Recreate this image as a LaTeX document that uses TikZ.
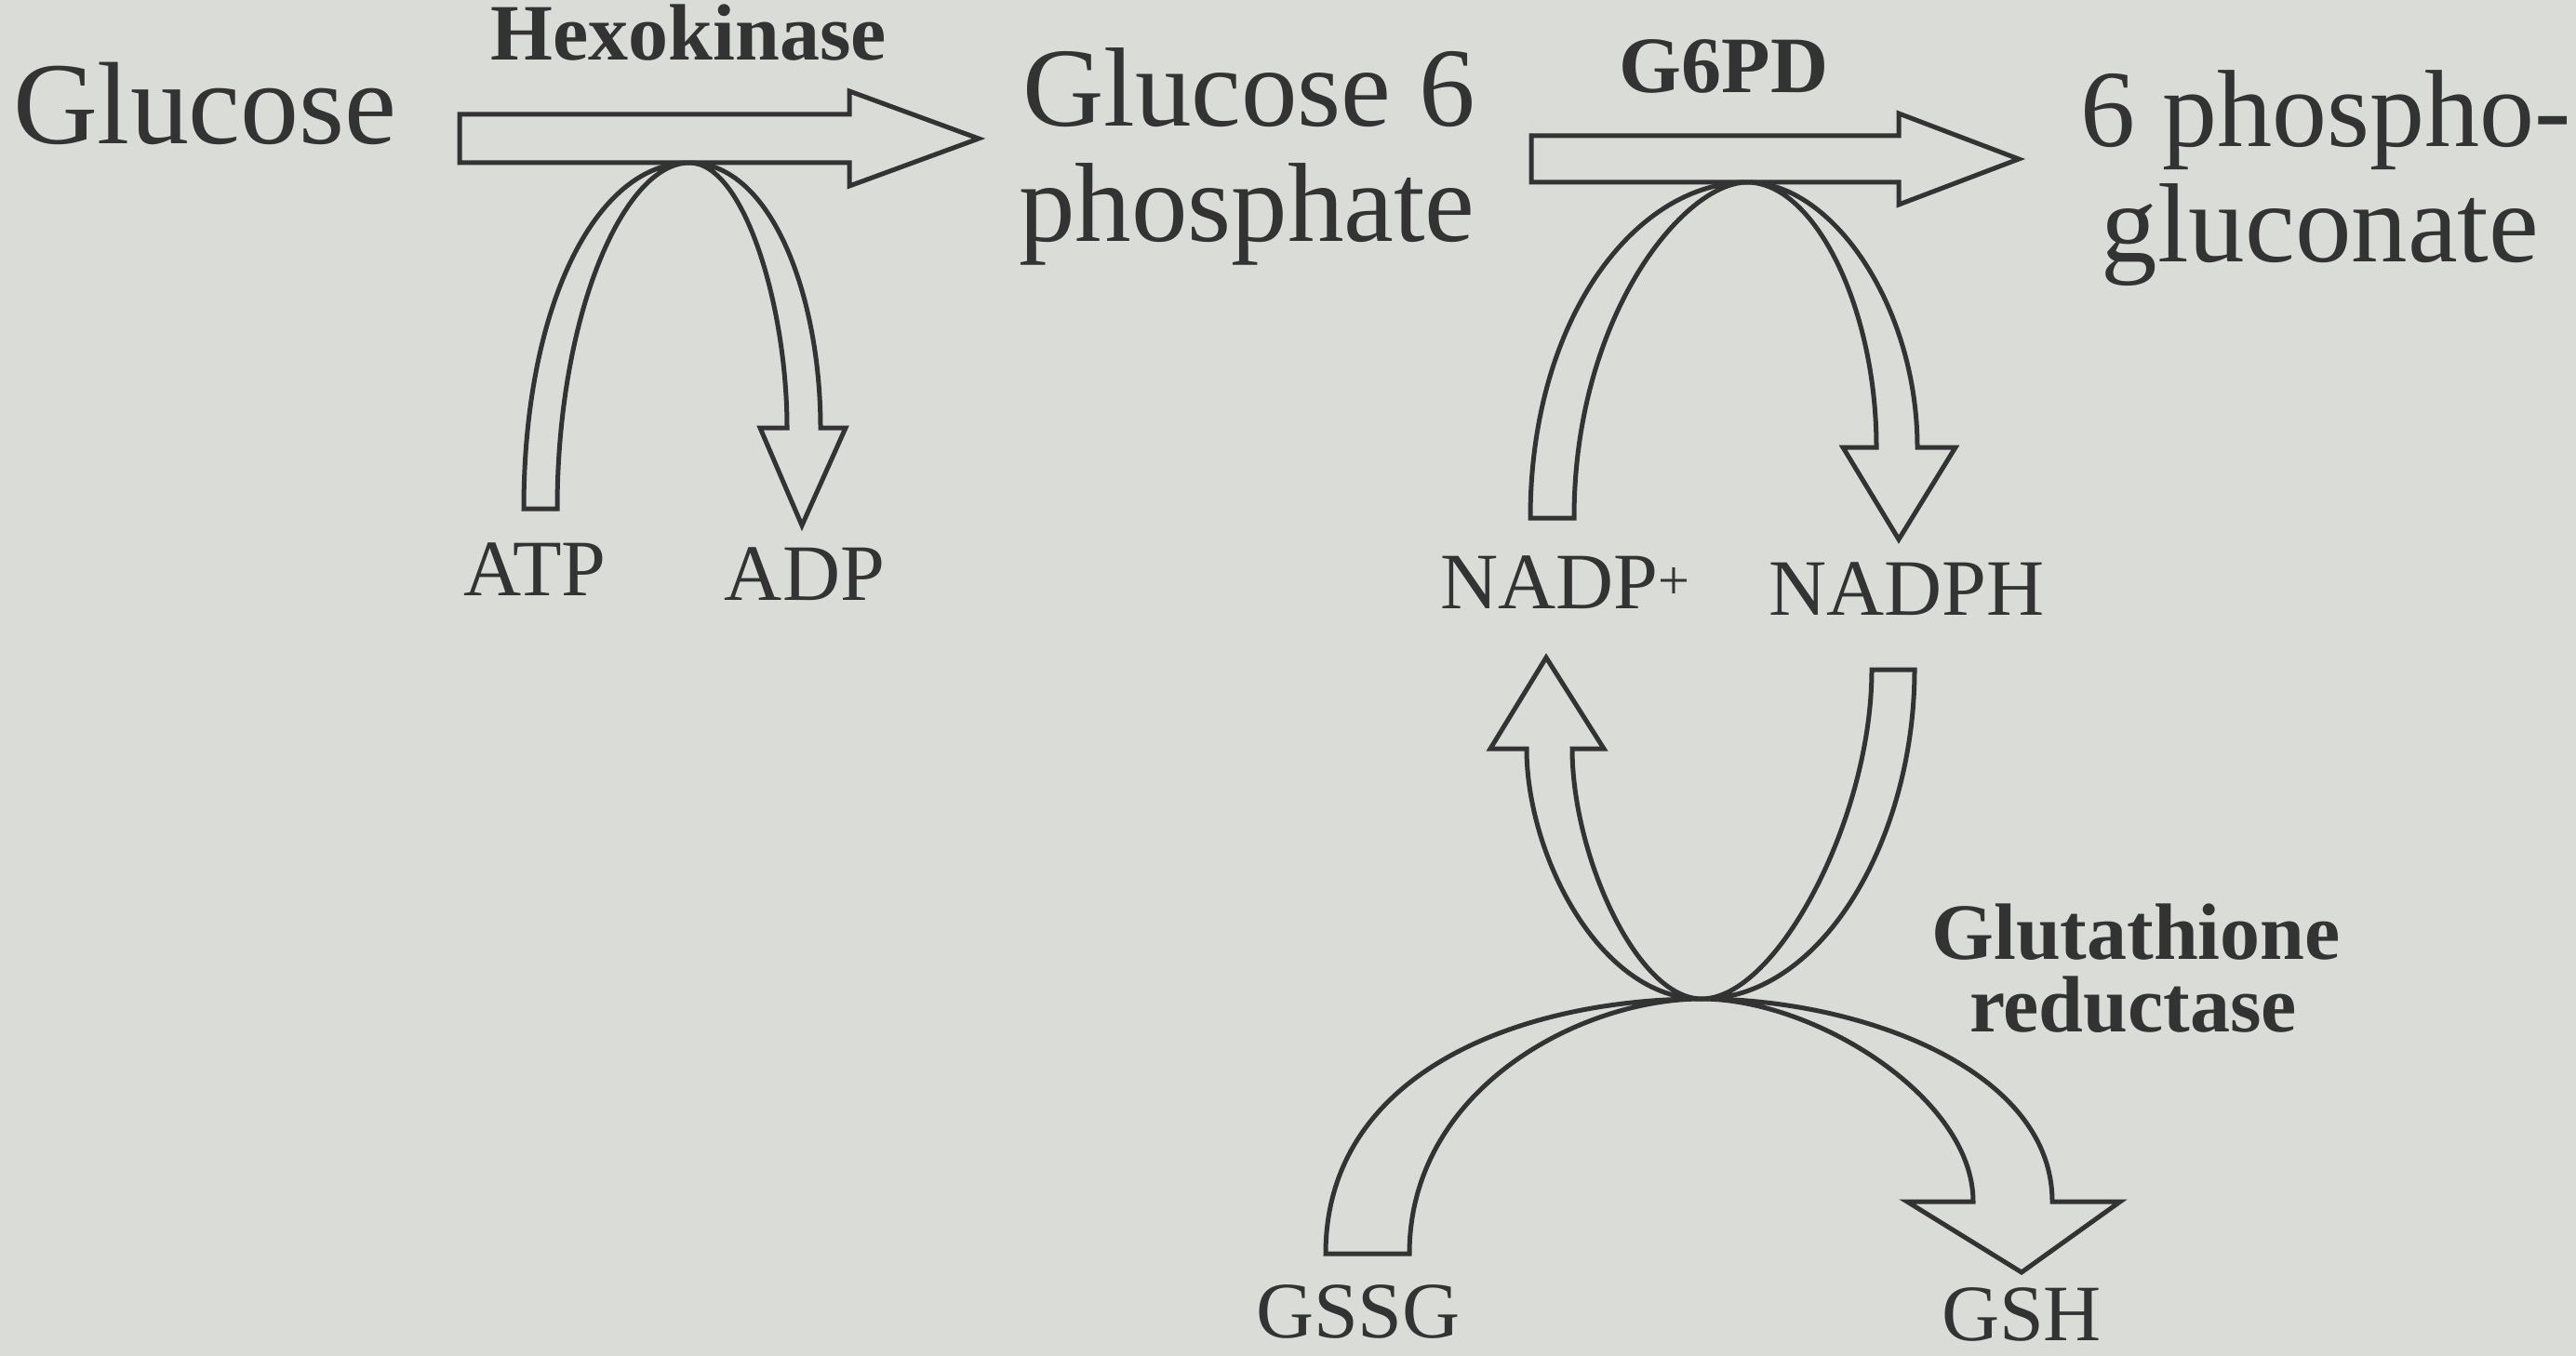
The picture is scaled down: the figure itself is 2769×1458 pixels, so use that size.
\documentclass[tikz,border=0pt]{standalone}
\usepackage{fontspec}
\setmainfont{Liberation Serif}
\definecolor{paper}{HTML}{D9DCD7}
\definecolor{ink}{HTML}{333333}
\tikzset{
  band/.style={draw=ink, line width=5pt, line join=miter, fill=paper},
  lbl/.style={inner sep=0pt, outer sep=0pt, text=ink},
  bigtxt/.style={lbl, font=\fontsize{121}{121}\selectfont},
  smalltxt/.style={lbl, font=\fontsize{86}{86}\selectfont},
  enztxt/.style={lbl, font=\fontsize{86}{86}\selectfont\bfseries}
}
\begin{document}
\begin{tikzpicture}[x=1pt, y=-1pt]
\fill[paper] (0,0) rectangle (2769,1458);
\useasboundingbox (0,0) rectangle (2769,1458);

% ---- Hexokinase step ----
\draw[band] (494,123) -- (913,123) -- (913,98) -- (1052,149) -- (913,200) -- (913,175) -- (494,175) -- cycle;
\draw[band] (563,547) .. controls (563,330) and (640,175) .. (741,175)
  .. controls (830,175) and (882,320) .. (882,460) -- (909,460) -- (862,565) -- (817,460) -- (846,460)
  .. controls (846,330) and (800,175) .. (741,175)
  .. controls (670,175) and (599,340) .. (599,547) -- cycle;

% ---- G6PD step ----
\draw[band] (1646,146) -- (2041,146) -- (2041,122) -- (2170,171) -- (2041,220) -- (2041,196) -- (1646,196) -- cycle;
\draw[band] (1645,557) .. controls (1645,340) and (1760,196) .. (1878,196)
  .. controls (1970,196) and (2061,330) .. (2061,481) -- (2102,481) -- (2041,580) -- (1981,481) -- (2017,481)
  .. controls (2017,330) and (1950,196) .. (1878,196)
  .. controls (1810,196) and (1692,340) .. (1692,557) -- cycle;

% ---- Glutathione reductase ----
\draw[band] (2058,720) .. controls (2058,900) and (1960,1074) .. (1829,1074)
  .. controls (1720,1074) and (1641,920) .. (1641,805) -- (1602,805) -- (1662,707) -- (1724,805) -- (1690,805)
  .. controls (1690,920) and (1760,1074) .. (1829,1074)
  .. controls (1910,1074) and (2012,880) .. (2012,720) -- cycle;
\draw[band] (1425,1348) .. controls (1425,1150) and (1640,1074) .. (1829,1074)
  .. controls (2000,1074) and (2206,1150) .. (2206,1292) -- (2279,1292) -- (2173,1368) -- (2050,1292) -- (2121,1292)
  .. controls (2121,1180) and (1950,1074) .. (1829,1074)
  .. controls (1700,1074) and (1515,1170) .. (1515,1348) -- cycle;

% ---- labels ----
\node[lbl, font=\fontsize{126}{126}\selectfont, anchor=base west] (glc) at (14,155) {Glucose};
\node[enztxt, anchor=base] (hk) at (740,65) {Hexokinase};
\node[bigtxt, anchor=base west] (g6pa) at (1099,136) {Glucose 6};
\node[bigtxt, anchor=base west] (g6pb) at (1095,259) {phosphate};
\node[enztxt, anchor=base] (g6pd) at (1853,100) {G6PD};
\node[lbl, font=\fontsize{118}{118}\selectfont, anchor=base west] (pga) at (2236,158) {6 phospho-};
\node[bigtxt, anchor=base] (pgb) at (2494,281) {gluconate};
\node[smalltxt, anchor=base] (atp) at (575,640) {ATP};
\node[smalltxt, anchor=base] (adp) at (865,645) {ADP};
\node[smalltxt, anchor=base west] (nadp) at (1548,654) {NADP\textsuperscript{+}};
\node[smalltxt, anchor=base west] (nadph) at (1901,661) {NADPH};
\node[smalltxt, anchor=base west] (gssg) at (1350,1438) {GSSG};
\node[smalltxt, anchor=base west] (gsh) at (2087,1441) {GSH};
\node[enztxt, anchor=base] (gra) at (2296,1031) {Glutathione};
\node[enztxt, anchor=base] (grb) at (2293,1109) {reductase};
\end{tikzpicture}
\end{document}
